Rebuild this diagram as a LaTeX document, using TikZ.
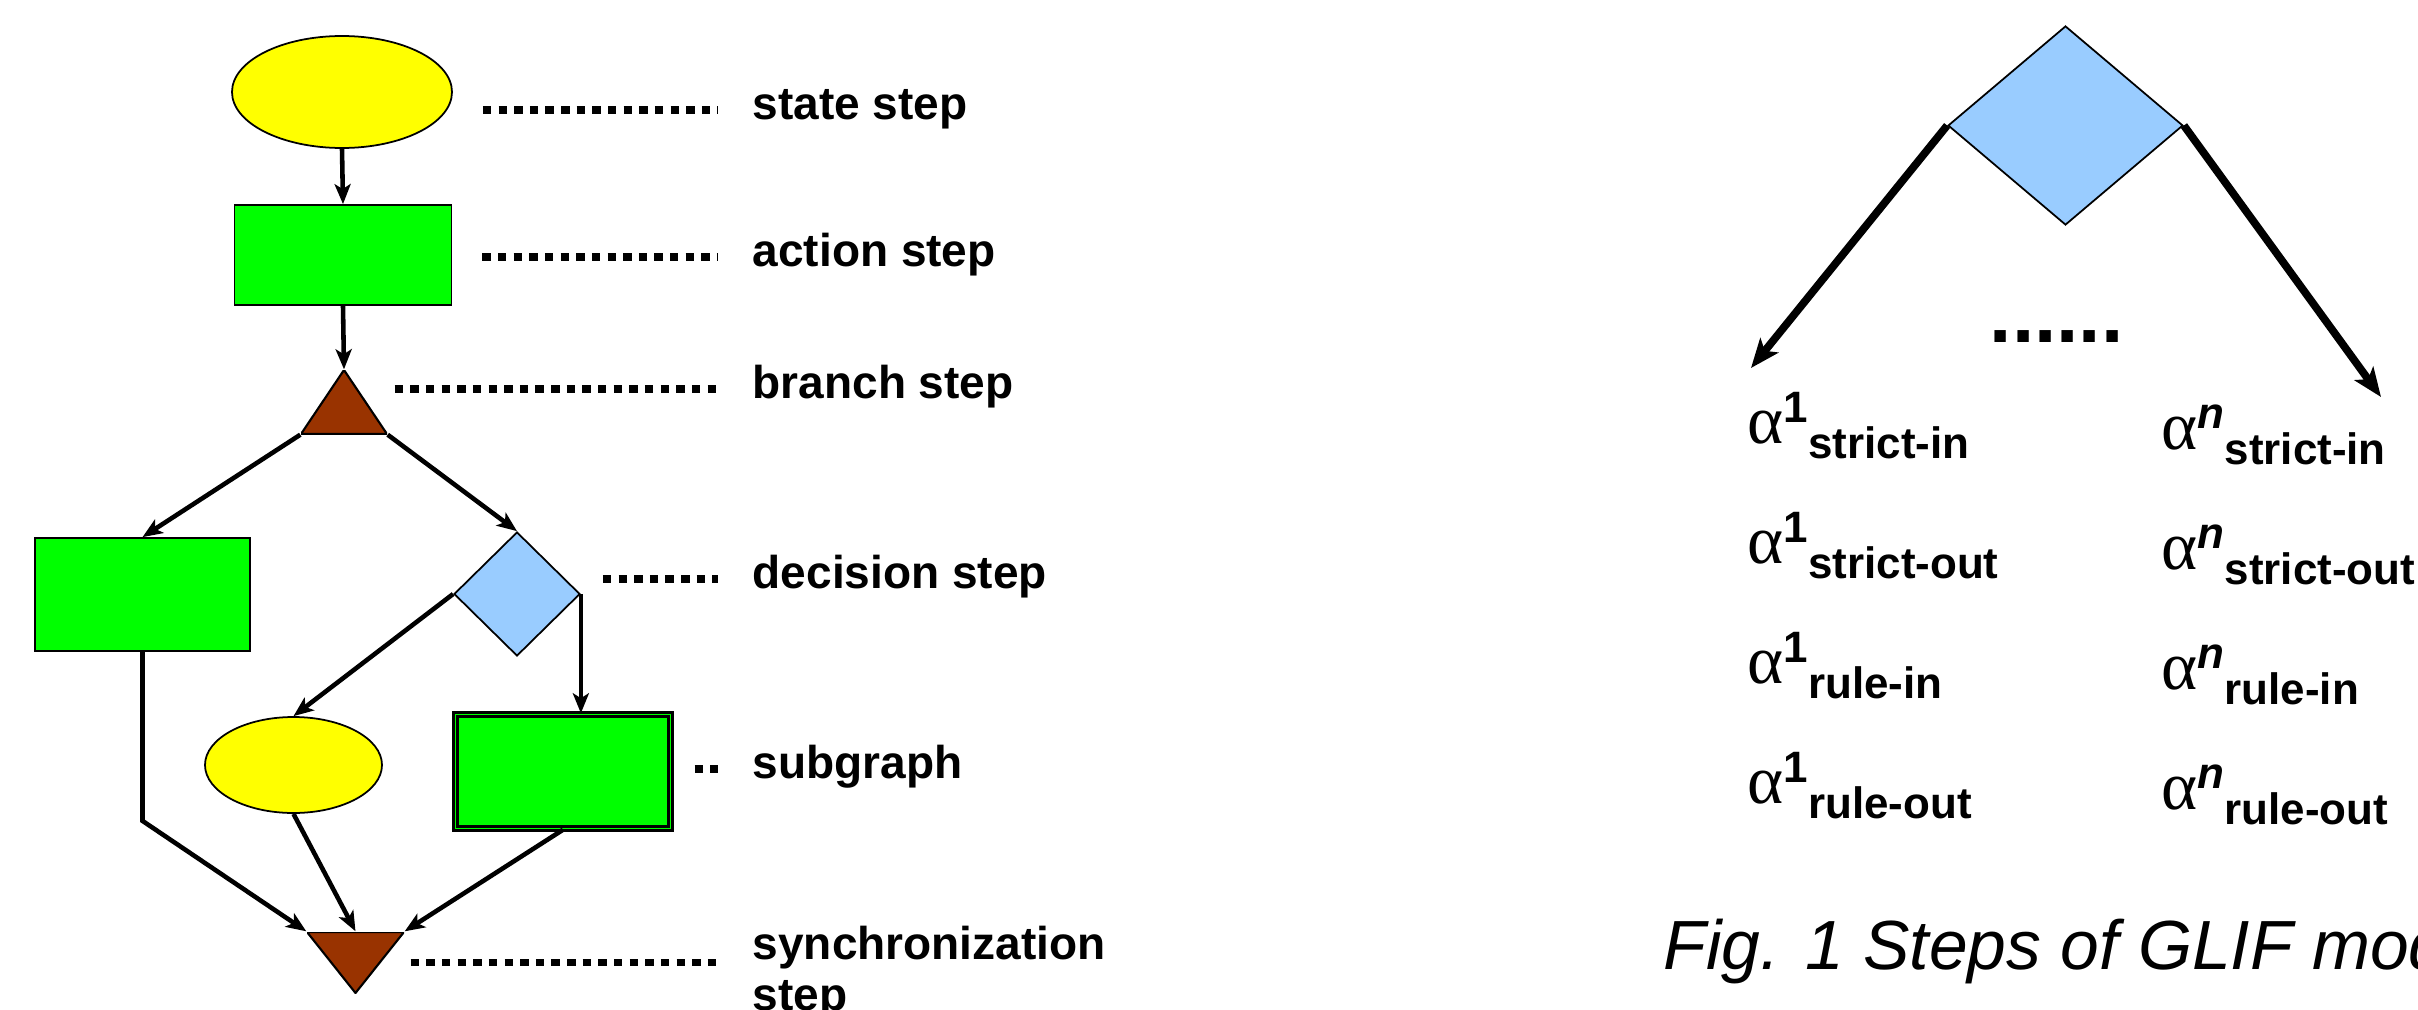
\documentclass[tikz,border=0pt]{standalone}
\usepackage{fontspec}
\setmainfont{Liberation Sans}
\newfontfamily\greekfont{Liberation Serif}
\usetikzlibrary{shapes.geometric,arrows.meta}
\definecolor{stateyellow}{HTML}{FFFF00}
\definecolor{actiongreen}{HTML}{00FF00}
\definecolor{decblue}{HTML}{99CCFF}
\definecolor{stepbrown}{HTML}{993300}
% alpha with superscript and subscript, set one after the other
\newcommand{\alphalab}[2]{{\greekfont\fontsize{19.6}{22}\selectfont α}%
  \raisebox{0.21cm}{\fontsize{12.5}{14}\selectfont\bfseries #1}%
  \raisebox{-0.15cm}{\fontsize{12.5}{14}\selectfont\bfseries #2}}

\begin{document}
\begin{tikzpicture}[>={Stealth[length=2mm,width=1.6mm,inset=0.5mm]},
  flow/.style={->, line width=1.3pt},
  bigflow/.style={-{Stealth[length=2.9mm,width=2.3mm,inset=0.7mm]}, line width=2.2pt},
  dotline/.style={line width=2.2pt, dash pattern=on 2.4pt off 2.05pt},
  lab/.style={anchor=mid west, inner sep=0pt, font=\fontsize{13.1}{14.5}\selectfont\bfseries},
  alab/.style={anchor=base west, inner sep=0pt},
  stateshape/.style={ellipse, draw, line width=0.5pt, fill=stateyellow, inner sep=0pt},
  actionshape/.style={rectangle, draw, line width=0.5pt, fill=actiongreen, inner sep=0pt},
  decshape/.style={diamond, draw, line width=0.5pt, fill=decblue, inner sep=0pt},
  subshape/.style={rectangle, draw, fill=actiongreen, line width=0.7pt,
    double=actiongreen, double distance=0.5pt, inner sep=0pt},
  branchtri/.style={inner sep=0pt, minimum width=0.86cm, minimum height=0.64cm,
    path picture={\filldraw[fill=stepbrown, draw=black, line width=0.6pt]
      (path picture bounding box.south west) -- (path picture bounding box.south east)
      -- (path picture bounding box.north) -- cycle;}},
  synctri/.style={inner sep=0pt, minimum width=0.97cm, minimum height=0.61cm,
    path picture={\filldraw[fill=stepbrown, draw=black, line width=0.6pt]
      (path picture bounding box.north west) -- (path picture bounding box.north east)
      -- (path picture bounding box.south) -- cycle;}}]
  \useasboundingbox (0,0) rectangle (24.18,10.09);

  % steps of the graph
  \node[stateshape, minimum width=2.20cm, minimum height=1.12cm] (st) at (3.42,9.17) {};
  \node[actionshape, minimum width=2.17cm, minimum height=1.00cm] (ac) at (3.43,7.54) {};
  \node[branchtri] (br) at (3.44,6.07) {};
  \node[actionshape, minimum width=2.15cm, minimum height=1.13cm] (lr) at (1.425,4.145) {};
  \node[decshape, minimum width=1.26cm, minimum height=1.24cm] (dm) at (5.17,4.15) {};
  \node[stateshape, minimum width=1.77cm, minimum height=0.96cm] (se) at (2.935,2.44) {};
  \node[subshape, minimum width=2.15cm, minimum height=1.14cm] (sg) at (5.63,2.375) {};
  \node[synctri] (sy) at (3.555,0.465) {};

  % arrows between the steps
  \draw[flow] (st.south) -- (ac.north);
  \draw[flow] (ac.south) -- (br.north);
  \draw[flow] (br.south west) -- (lr.north);
  \draw[flow] (br.south east) -- (dm.north);
  \draw[flow] (dm.west) -- (se.north);
  \draw[flow] (dm.east) -- (dm.east |- sg.north);
  \draw[flow] (lr.south) -- ++(0,-1.69) -- (sy.north west);
  \draw[flow] (se.south) -- (sy.north);
  \draw[flow] (sg.south) -- (sy.north east);

  % names of the steps
  \node[lab] (l-st) at (7.52,8.99) {state step};
  \node[lab] (l-ac) at (7.52,7.52) {action step};
  \node[lab] (l-br) at (7.52,6.20) {branch step};
  \node[lab] (l-dm) at (7.52,4.30) {decision step};
  \node[lab] (l-sg) at (7.52,2.40) {subgraph};
  \node[lab, anchor=west, align=left] (l-sy) at (7.52,0.36) {synchronization\\step};
  \draw[dotline] (st.east |- l-st.mid west) ++(0.30,0) -- ([xshift=-3.4mm]l-st.mid west);
  \draw[dotline] (ac.east |- l-ac.mid west) ++(0.30,0) -- ([xshift=-3.4mm]l-ac.mid west);
  \draw[dotline] (br.east |- l-br.mid west) ++(0.07,0) -- ([xshift=-3.4mm]l-br.mid west);
  \draw[dotline] (dm.east |- l-dm.mid west) ++(0.22,0) -- ([xshift=-3.4mm]l-dm.mid west);
  \draw[dotline] (sg.east |- l-sg.mid west) ++(0.23,0) -- ([xshift=-3.4mm]l-sg.mid west);
  \draw[dotline] ([xshift=0.6mm]sy.east) -- ([xshift=-3.4mm]sy.east -| l-sy.west);

  % decision step with its alternatives
  \node[decshape, minimum width=2.35cm, minimum height=1.99cm] (dm2) at (20.655,8.835) {};
  \coordinate (tip1) at (17.51,6.41);
  \coordinate (tipn) at (23.81,6.12);
  \draw[bigflow] (dm2.west) -- (tip1);
  \draw[bigflow] (dm2.east) -- (tipn);
  \node[anchor=base, inner sep=0pt, font=\fontsize{22.8}{24}\selectfont\bfseries] (more) at (20.565,6.67) {......};

  \node[alab] (a1-si) at (17.47,5.66) {\alphalab{1}{strict-in}};
  \node[alab] (a1-so) at (17.47,4.46) {\alphalab{1}{strict-out}};
  \node[alab] (a1-ri) at (17.47,3.26) {\alphalab{1}{rule-in}};
  \node[alab] (a1-ro) at (17.47,2.06) {\alphalab{1}{rule-out}};
  \node[alab] (an-si) at (21.61,5.60) {\alphalab{\textit{n}}{strict-in}};
  \node[alab] (an-so) at (21.61,4.40) {\alphalab{\textit{n}}{strict-out}};
  \node[alab] (an-ri) at (21.61,3.20) {\alphalab{\textit{n}}{rule-in}};
  \node[alab] (an-ro) at (21.61,2.00) {\alphalab{\textit{n}}{rule-out}};

  % caption
  \node[anchor=base west, inner sep=0pt, font=\fontsize{19.8}{22}\selectfont\itshape] (cap) at (16.63,0.40) {Fig. 1 Steps of GLIF mod};
\end{tikzpicture}
\end{document}
